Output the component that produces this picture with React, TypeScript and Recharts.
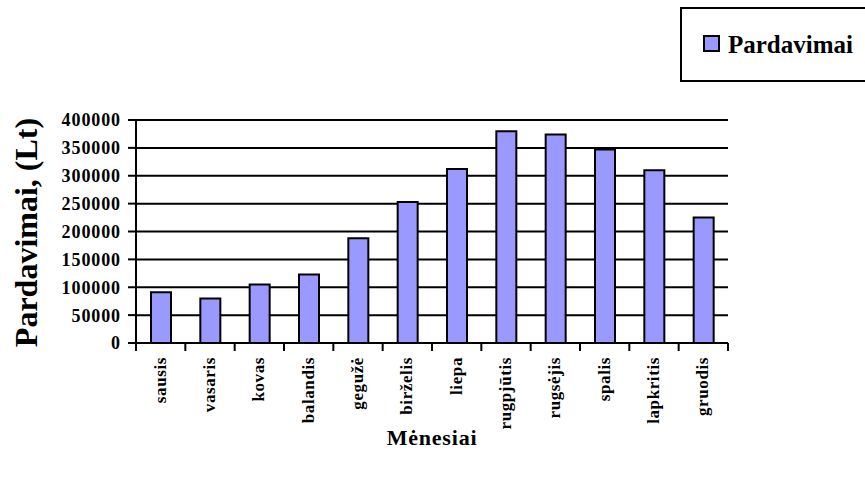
import React from "react";
import { Bar, BarChart, CartesianGrid, Label, Legend, XAxis, YAxis } from "recharts";

const months = [
  "sausis",
  "vasaris",
  "kovas",
  "balandis",
  "gegužė",
  "birželis",
  "liepa",
  "rugpjūtis",
  "rugsėjis",
  "spalis",
  "lapkritis",
  "gruodis"
];
const sales = [91000, 80000, 105000, 123000, 188000, 253000, 312000, 380000, 374000, 347000, 310000, 225000];
const yTicks = [0, 50000, 100000, 150000, 200000, 250000, 300000, 350000, 400000];

const FONT = "'Liberation Serif', serif";
const BAR_FILL = "#9999ff";
const WIDTH = 865;
const HEIGHT = 477;
const MARGIN = { top: 120, right: 137, bottom: 0, left: 36 };
const PLOT_W = WIDTH - MARGIN.left - MARGIN.right - 100;

const data = months.map((month, i) => ({ month, sales: sales[i] }));

// category ticks sit between the bars, labels run bottom-to-top
function MonthTick(props: any) {
  const { x, y, payload, index } = props;
  const half = payload?.offset || PLOT_W / months.length / 2;
  const ty = y + 14;
  return (
    <g>
      <line x1={x - half} y1={y} x2={x - half} y2={y + 8} stroke="#000" strokeWidth={2} />
      {index === months.length - 1 ? (
        <line x1={x + half} y1={y} x2={x + half} y2={y + 8} stroke="#000" strokeWidth={2} />
      ) : null}
      <text
        x={x + 5}
        y={ty}
        transform={`rotate(-90, ${x + 5}, ${ty})`}
        textAnchor="end"
        fill="#000"
        style={{ fontFamily: FONT, fontWeight: 700, fontSize: 17, letterSpacing: 0.6 }}
      >
        {payload.value}
      </text>
    </g>
  );
}

function LegendBox() {
  return (
    <div
      style={{
        boxSizing: "border-box",
        width: WIDTH - 680,
        height: 75,
        border: "2px solid #000",
        borderRight: "none",
        background: "#fff",
        display: "flex",
        alignItems: "center",
        paddingLeft: 21,
        fontFamily: FONT,
        fontWeight: 700,
        fontSize: 25,
        color: "#000"
      }}
    >
      <span
        style={{
          display: "inline-block",
          boxSizing: "border-box",
          width: 17,
          height: 17,
          background: BAR_FILL,
          border: "2px solid #000",
          marginRight: 8,
          marginTop: -3
        }}
      />
      Pardavimai
    </div>
  );
}

export default function App() {
  return (
    <div style={{ position: "absolute", left: 0, top: 0, width: WIDTH, height: HEIGHT, overflow: "hidden", background: "#fff", fontFamily: FONT }}>
      <BarChart width={WIDTH} height={HEIGHT} data={data} margin={MARGIN} style={{ fontFamily: FONT }}>
        <CartesianGrid vertical={false} stroke="#000" strokeWidth={2} />
        <XAxis
          dataKey="month"
          height={134}
          axisLine={{ stroke: "#000", strokeWidth: 2 }}
          tickLine={false}
          tickSize={0}
          tickMargin={0}
          interval={0}
          tick={<MonthTick />}
        >
          <Label
            content={({ viewBox }: any) => (
              <text
                x={viewBox.x + viewBox.width / 2}
                y={viewBox.y + 102}
                textAnchor="middle"
                fill="#000"
                style={{ fontFamily: FONT, fontWeight: 700, fontSize: 22, letterSpacing: 0.8 }}
              >
                Mėnesiai
              </text>
            )}
          />
        </XAxis>
        <YAxis
          width={100}
          domain={[0, 400000]}
          ticks={yTicks}
          interval={0}
          axisLine={{ stroke: "#000", strokeWidth: 2 }}
          tickLine={{ stroke: "#000", strokeWidth: 2 }}
          tickSize={8}
          tickMargin={7}
          tick={{ fill: "#000", style: { fontFamily: FONT, fontWeight: 700, fontSize: 18, letterSpacing: 0.9 } }}
        >
          <Label
            content={({ viewBox }: any) => {
              const cx = 37;
              const cy = viewBox.y + viewBox.height / 2 + 1;
              return (
                <text
                  x={cx}
                  y={cy}
                  transform={`rotate(-90, ${cx}, ${cy})`}
                  textAnchor="middle"
                  fill="#000"
                  style={{ fontFamily: FONT, fontWeight: 700, fontSize: 32 }}
                >
                  Pardavimai, (Lt)
                </text>
              );
            }}
          />
        </YAxis>
        <Legend
          layout="horizontal"
          verticalAlign="middle"
          align="center"
          content={<LegendBox />}
          wrapperStyle={{ position: "absolute", left: 680, top: 7, width: WIDTH - 680, height: 75 }}
        />
        <Bar
          dataKey="sales"
          name="Pardavimai"
          fill={BAR_FILL}
          stroke="#000"
          strokeWidth={2}
          barSize={20}
          isAnimationActive={false}
        />
      </BarChart>
    </div>
  );
}
